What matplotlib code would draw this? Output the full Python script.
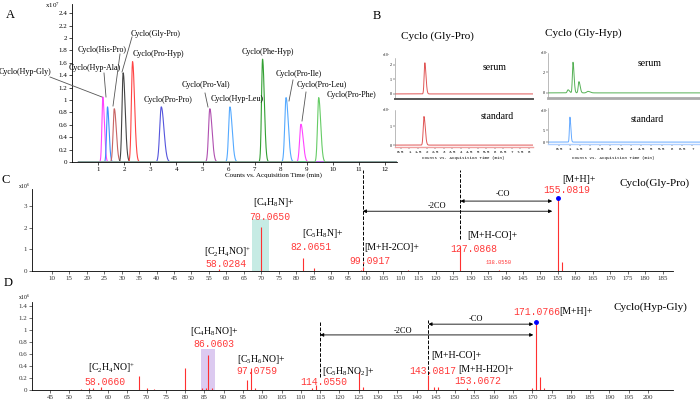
import numpy as np
import matplotlib
matplotlib.use("Agg")
import matplotlib.pyplot as plt
from matplotlib.lines import Line2D
from matplotlib.patches import Rectangle

# ---------- data ----------
# A: EIC peaks (x10^7 counts)
a_names = ["Cyclo(Hyp-Gly)", "Cyclo(Hyp-Ala)", "Cyclo(His-Pro)", "Cyclo(Gly-Pro)",
           "Cyclo(Pro-Hyp)", "Cyclo(Pro-Pro)", "Cyclo(Pro-Val)", "Cyclo(Hyp-Leu)",
           "Cyclo(Phe-Hyp)", "Cyclo(Pro-Ile)", "Cyclo(Pro-Leu)", "Cyclo(Pro-Phe)"]
a_rt = [1.18, 1.36, 1.62, 1.96, 2.32, 3.42, 5.28, 6.05, 7.30, 8.20, 8.77, 9.45]
a_height = [1.05, 0.89, 0.86, 1.44, 1.62, 0.89, 0.86, 0.89, 1.66, 1.04, 0.61, 1.04]
a_width = [0.035, 0.035, 0.045, 0.045, 0.045, 0.06, 0.05, 0.05, 0.04, 0.05, 0.05, 0.045]
a_colors = ["#ff44ff", "#3d8fff", "#c86464", "#444444", "#ff4444", "#5555dd",
            "#b050b0", "#55aaff", "#33a033", "#55aaff", "#ff44ff", "#66cc66"]

# B: Gly-Pro / Gly-Hyp, serum vs standard
b_gp_serum_rt, b_gp_serum_h, b_gp_serum_w = [1.90], [2.15], [0.04]
b_gp_std_rt, b_gp_std_h, b_gp_std_w = [1.85], [1.50], [0.045]
b_gh_serum_rt = [0.93, 1.17, 1.46, 1.90]
b_gh_serum_h = [0.30, 3.00, 1.10, 0.15]
b_gh_serum_w = [0.04, 0.03, 0.035, 0.06]
b_gh_std_rt, b_gh_std_h, b_gh_std_w = [1.02], [10.4], [0.025]

# C: MS/MS of Cyclo(Gly-Pro), x10^6
c_mz = [58.03, 70.065, 82.065, 85.0, 98.6, 99.09, 112.0, 127.087, 138.055, 155.082, 156.08]
c_int = [0.08, 2.03, 0.60, 0.12, 0.06, 0.20, 0.04, 1.15, 0.04, 3.38, 0.40]
c_band = (67.4, 72.3, 2.4)

# D: MS/MS of Cyclo(Hyp-Gly), x10^6
d_mz = [53.0, 55.0, 56.0, 58.066, 68.05, 70.0, 72.0, 80.05, 84.5, 85.5, 86.06, 87.0,
        96.05, 97.076, 98.0, 113.0, 114.055, 125.07, 126.0, 143.082, 144.5, 145.5,
        153.067, 170.0, 171.077, 172.08, 173.0]
d_int = [0.02, 0.03, 0.03, 0.05, 0.24, 0.03, 0.02, 0.37, 0.03, 0.04, 0.58, 0.04,
         0.17, 0.37, 0.03, 0.04, 0.08, 0.30, 0.05, 0.25, 0.05, 0.05,
         0.04, 0.03, 1.13, 0.22, 0.04]
d_band = (84.1, 87.7, 0.68)

# ---------- layout helpers ----------
W, H = 700, 401
plt.rcParams["font.family"] = ["Liberation Serif", "DejaVu Serif"]
plt.rcParams["mathtext.fontset"] = "custom"
plt.rcParams["mathtext.rm"] = "Liberation Serif"
plt.rcParams["mathtext.it"] = "Liberation Serif:italic"
plt.rcParams["axes.linewidth"] = 0.6

fig = plt.figure(figsize=(7.0, 4.01), dpi=100)


def rect(x0, y0, x1, y1):
    return [x0 / W, 1 - y1 / H, (x1 - x0) / W, (y1 - y0) / H]


def label(px, py, s, **kw):
    kw.setdefault("ha", "center")
    kw.setdefault("va", "center")
    fig.text(px / W, 1 - py / H, s, **kw)


def leader(x0, y0, x1, y1):
    fig.add_artist(Line2D([x0 / W, x1 / W], [1 - y0 / H, 1 - y1 / H],
                          transform=fig.transFigure, color="#555555", lw=0.6))


def trace(t, rts, hs, ws):
    y = np.zeros_like(t)
    for rt, h, w in zip(rts, hs, ws):
        s = np.where(t < rt, w, 1.7 * w)
        y += h * np.exp(-0.5 * ((t - rt) / s) ** 2)
    return y


# ========== A ==========
axA = fig.add_axes(rect(72, 4, 397, 162))
t = np.linspace(0.25, 12.45, 3000)
for rt, h, w, c in zip(a_rt, a_height, a_width, a_colors):
    axA.plot(t, trace(t, [rt], [h], [w]), color=c, lw=0.8)
axA.set_xlim(0, 12.45)
axA.set_ylim(0, 2.55)
axA.spines["top"].set_visible(False)
axA.spines["right"].set_visible(False)
axA.set_xticks(range(1, 13))
yt = [0, 0.2, 0.4, 0.6, 0.8, 1, 1.2, 1.4, 1.6, 1.8, 2, 2.2, 2.4]
axA.set_yticks(yt)
axA.set_yticklabels([f"{v:g}" for v in yt])
axA.tick_params(labelsize=5, length=2, width=0.5, pad=1.5)
label(10, 15, "A", fontsize=9)
label(52, 5, "x10$^{7}$", fontsize=5)
label(273, 175, "Counts vs. Acquisition Time (min)", fontsize=5)

a_text_pos = [(25, 72), (95, 68), (102, 50), (156, 34), (158, 54), (168, 100),
              (206, 85), (237, 99), (268, 52), (299, 74), (322, 85), (351, 95)]
for name, (px, py) in zip(a_names, a_text_pos):
    label(px, py, name, fontsize=5.8)
leader(50, 77, 102, 97)
leader(104, 73, 106, 97)
leader(120, 54, 113, 106)
leader(132, 37, 122, 72)
leader(205, 93, 208, 107)
leader(293, 80, 289, 101)
leader(306, 92, 302, 121)


# ========== B ==========
def b_axes(box, rts, hs, ws, color, xlim, ylim, yticks, bottom, xt=None):
    ax = fig.add_axes(rect(*box))
    tt = np.linspace(xlim[0], xlim[1], 1500)
    ax.plot(tt, trace(tt, rts, hs, ws), color=color, lw=0.7)
    ax.set_xlim(*xlim)
    ax.set_ylim(*ylim)
    ax.spines["top"].set_visible(False)
    ax.spines["right"].set_visible(False)
    ax.spines["left"].set_color("#888888")
    ax.spines["left"].set_linewidth(0.4)
    ax.spines["bottom"].set_color(bottom[0])
    ax.spines["bottom"].set_linewidth(bottom[1])
    ax.set_yticks(yticks)
    ax.set_yticklabels([f"{v:g}" for v in yticks])
    ax.tick_params(labelsize=3, length=1.2, width=0.3, pad=1)
    if xt is None:
        ax.set_xticks([])
    else:
        ax.set_xticks(xt)
        ax.set_xticklabels([f"{v:g}" for v in xt], family="Liberation Mono")
    return ax


b_gp_ticks = [0.5 * i for i in range(1, 17)]
b_gh_ticks = [0.5 * i for i in range(1, 15)]
b_axes((395, 58, 533, 99), b_gp_serum_rt, b_gp_serum_h, b_gp_serum_w,
       "#e05555", (0.15, 8.25), (-0.35, 2.48), [0, 1, 2], ("#555555", 1.4))
b_axes((395, 110, 533, 147), b_gp_std_rt, b_gp_std_h, b_gp_std_w,
       "#e05555", (0.15, 8.25), (-0.1, 1.84), [0, 1], ("#f0a0a0", 1.0), b_gp_ticks)
b_axes((548, 53, 700, 98), b_gh_serum_rt, b_gh_serum_h, b_gh_serum_w,
       "#55b055", (-0.05, 7.37), (-0.5, 3.9), [0, 2], ("#aaaaaa", 2.0))
b_axes((548, 108, 700, 144), b_gh_std_rt, b_gh_std_h, b_gh_std_w,
       "#66aaff", (-0.05, 7.37), (-0.8, 14.2), [0, 5], ("#b0d0ff", 1.0), b_gh_ticks)

label(377, 16, "B", fontsize=9)
label(437, 36, "Cyclo (Gly-Pro)", fontsize=8)
label(583, 33, "Cyclo (Gly-Hyp)", fontsize=8)
label(495, 67, "serum", fontsize=7)
label(497, 117, "standard", fontsize=7)
label(650, 64, "serum", fontsize=7)
label(647, 120, "standard", fontsize=7)
for px, py in [(386, 55), (386, 110), (544, 53), (544, 111)]:
    label(px, py, "x10$^{7}$", fontsize=2.5)
label(463, 158, "Counts vs. Acquisition Time (min)", fontsize=3, family="Liberation Mono")
label(613, 158, "Counts vs. Acquisition Time (min)", fontsize=3, family="Liberation Mono")


# ========== C / D ==========
def ms_axes(box, mz, inten, band, band_color, xlim, ylim, xt, yt):
    ax = fig.add_axes(rect(*box))
    ax.add_patch(Rectangle((band[0], 0), band[1] - band[0], band[2],
                           facecolor=band_color, edgecolor="none", zorder=0))
    ax.vlines(mz, 0, inten, color="#ff3030", lw=0.8, zorder=3)
    ax.set_xlim(*xlim)
    ax.set_ylim(*ylim)
    ax.spines["top"].set_visible(False)
    ax.spines["right"].set_visible(False)
    ax.set_xticks(xt)
    ax.set_yticks(yt)
    ax.set_yticklabels([f"{v:g}" for v in yt])
    ax.tick_params(labelsize=5, length=2, width=0.5, pad=1.5, colors="#333333")
    return ax


axC = ms_axes((32, 189, 673, 271), c_mz, c_int, c_band, "#c6ebe4",
              (4.3, 188), (0, 3.8), list(range(10, 190, 5)), [0, 1, 2, 3])
i_mh = c_int.index(max(c_int))
axC.plot(c_mz[i_mh], c_int[i_mh], "o", color="blue", ms=2.5, zorder=5)
axC.plot([99.09, 99.09], [0.0, 4.7], ls="--", color="black", lw=0.7, clip_on=False)
axC.plot([127.087, 127.087], [1.5, 4.7], ls="--", color="black", lw=0.7, clip_on=False)
arrow = dict(arrowstyle="<|-|>", lw=0.6, color="black", shrinkA=0, shrinkB=0,
             mutation_scale=5)
axC.annotate("", xy=(127.087, 3.24), xytext=(c_mz[i_mh] - 1.7, 3.24),
             arrowprops=arrow, annotation_clip=False)
axC.annotate("", xy=(99.09, 2.77), xytext=(c_mz[i_mh] - 1.7, 2.77),
             arrowprops=arrow, annotation_clip=False)

label(6, 180, "C", fontsize=9)
label(24, 186, "x10$^{6}$", fontsize=4)
num = dict(color="#ff3a3a", family="Liberation Mono")
label(274, 202, "[C$_{4}$H$_{8}$N]+", fontsize=7)
label(270, 217, "70.0650", fontsize=7, **num)
label(323, 233, "[C$_{5}$H$_{8}$N]+", fontsize=7)
label(311, 247, "82.0651", fontsize=7, **num)
label(228, 252, "[C$_{2}$H$_{4}$NO]$^{+}$", fontsize=7)
label(226, 264, "58.0284", fontsize=7, **num)
label(392, 248, "[M+H-2CO]+", fontsize=7)
label(370, 261, "99.0917", fontsize=7, **num)
label(492, 236, "[M+H-CO]+", fontsize=7)
label(474, 249, "127.0868", fontsize=7, **num)
label(499, 263, "138.0550", fontsize=4, **num)
label(579, 180, "[M+H]+", fontsize=7)
label(567, 190, "155.0819", fontsize=7, **num)
label(655, 183, "Cyclo(Gly-Pro)", fontsize=8)
label(437, 206, "-2CO", fontsize=6)
label(503, 194, "-CO", fontsize=6)

axD = ms_axes((32, 302, 673, 390), d_mz, d_int, d_band, "#dccaf0",
              (40.3, 206.5), (0, 1.47), list(range(45, 205, 5)),
              [0, 0.2, 0.4, 0.6, 0.8, 1, 1.2, 1.4])
j_mh = d_int.index(max(d_int))
axD.plot(d_mz[j_mh], d_int[j_mh], "o", color="blue", ms=2.5, zorder=5)
axD.plot([115.0, 115.0], [0.22, 1.13], ls="--", color="black", lw=0.7)
axD.plot([143.082, 143.082], [0.0, 1.17], ls="--", color="black", lw=0.7)
axD.annotate("", xy=(143.082, 1.10), xytext=(d_mz[j_mh] - 0.8, 1.10), arrowprops=arrow)
axD.annotate("", xy=(115.0, 0.92), xytext=(d_mz[j_mh] - 0.8, 0.92), arrowprops=arrow)

label(8, 283, "D", fontsize=9)
label(24, 297, "x10$^{6}$", fontsize=4)
label(214, 332, "[C$_{4}$H$_{8}$NO]+", fontsize=7)
label(214, 344, "86.0603", fontsize=7, **num)
label(112, 368, "[C$_{2}$H$_{4}$NO]$^{+}$", fontsize=7)
label(105, 382, "58.0660", fontsize=7, **num)
label(261, 360, "[C$_{5}$H$_{6}$NO]+", fontsize=7)
label(257, 371, "97.0759", fontsize=7, **num)
label(348, 372, "[C$_{5}$H$_{8}$NO$_{2}$]+", fontsize=7)
label(324, 382, "114.0550", fontsize=7, **num)
label(456, 355, "[M+H-CO]+", fontsize=7)
label(433, 371, "143.0817", fontsize=7, **num)
label(486, 370, "[M+H-H2O]+", fontsize=7)
label(478, 381, "153.0672", fontsize=7, **num)
label(537, 312, "171.0766", fontsize=7, **num)
label(576, 312, "[M+H]+", fontsize=7)
label(650, 307, "Cyclo(Hyp-Gly)", fontsize=8)
label(403, 331, "-2CO", fontsize=6)
label(476, 319, "-CO", fontsize=6)

fig.savefig("out.png", dpi=100)
